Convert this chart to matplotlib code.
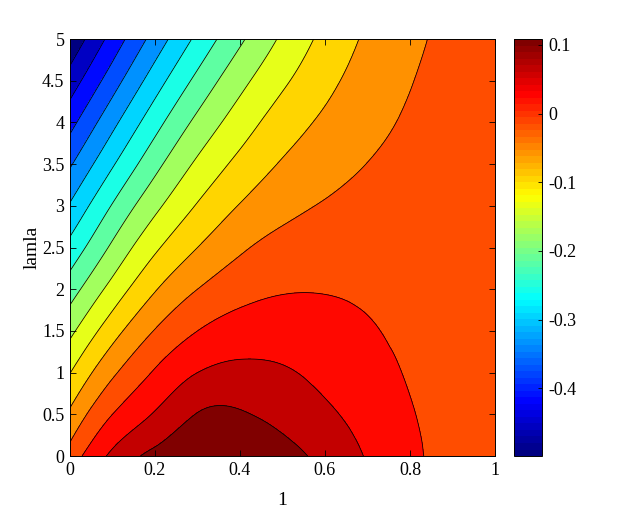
import numpy as np
import matplotlib
matplotlib.use("Agg")
import matplotlib.pyplot as plt
import matplotlib.tri as mtri
from matplotlib.colors import LinearSegmentedColormap, Normalize

plt.rcParams['font.family'] = ['Liberation Serif', 'DejaVu Serif']
plt.rcParams['axes.unicode_minus'] = False

# grid coordinates
x_vals = [0.0, 0.1, 0.2, 0.3, 0.4, 0.5, 0.6, 0.7, 0.8, 0.9, 1.0]
lam_vals = [0.0, 0.5, 1.0, 1.5, 2.0, 2.5, 3.0, 3.5, 4.0, 4.5, 5.0]

# values, one row per lamla value
z_lam_0_0 = [-0.0235, 0.0486, 0.0912, 0.1064, 0.1075, 0.0952, 0.0679, 0.037, 0.0079, -0.012, -0.021]
z_lam_0_5 = [-0.0723, 0.000, 0.0436, 0.0815, 0.0835, 0.068, 0.047, 0.0255, 0.0025, -0.011, -0.021]
z_lam_1_0 = [-0.121, -0.047, 0.004, 0.040, 0.0505, 0.0445, 0.030, 0.0145, -0.003, -0.0125, -0.021]
z_lam_1_5 = [-0.1698, -0.096, -0.038, 0.000, 0.018, 0.0205, 0.014, 0.004, -0.0085, -0.0145, -0.021]
z_lam_2_0 = [-0.2185, -0.1455, -0.083, -0.040, -0.0145, -0.003, -0.002, -0.0065, -0.014, -0.0175, -0.021]
z_lam_2_5 = [-0.2673, -0.1925, -0.127, -0.080, -0.046, -0.027, -0.019, -0.017, -0.0195, -0.0195, -0.021]
z_lam_3_0 = [-0.316, -0.2372, -0.170, -0.117, -0.078, -0.052, -0.037, -0.028, -0.025, -0.022, -0.021]
z_lam_3_5 = [-0.3648, -0.2844, -0.2122, -0.153, -0.109, -0.0765, -0.0555, -0.0395, -0.0305, -0.0245, -0.021]
z_lam_4_0 = [-0.4135, -0.3311, -0.255, -0.190, -0.140, -0.1005, -0.073, -0.051, -0.036, -0.027, -0.021]
z_lam_4_5 = [-0.4623, -0.3786, -0.2993, -0.2294, -0.172, -0.127, -0.091, -0.0625, -0.0415, -0.029, -0.021]
z_lam_5_0 = [-0.511, -0.425, -0.344, -0.2705, -0.207, -0.1535, -0.109, -0.0736, -0.048, -0.031, -0.021]

contour_levels = [-0.48, -0.44, -0.40, -0.36, -0.32, -0.28, -0.24, -0.20,
                  -0.16, -0.12, -0.08, -0.04, 0.0, 0.04, 0.08]
cbar_min = -0.4986
cbar_max = 0.1087
cbar_ticks = [-0.4, -0.3, -0.2, -0.1, 0.0, 0.1]
cbar_ticklabels = ['-0.4', '-0.3', '-0.2', '-0.1', '0', '0.1']
x_ticks = [0, 0.2, 0.4, 0.6, 0.8, 1]
x_ticklabels = ['0', '0.2', '0.4', '0.6', '0.8', '1']
y_ticks = [0, 0.5, 1, 1.5, 2, 2.5, 3, 3.5, 4, 4.5, 5]
y_ticklabels = ['0', '0.5', '1', '1.5', '2', '2.5', '3', '3.5', '4', '4.5', '5']

Z = np.array([z_lam_0_0, z_lam_0_5, z_lam_1_0, z_lam_1_5, z_lam_2_0, z_lam_2_5,
              z_lam_3_0, z_lam_3_5, z_lam_4_0, z_lam_4_5, z_lam_5_0])
X, Y = np.meshgrid(x_vals, lam_vals)

# MATLAB-style jet colormap
jet_anchor = [(0.0, (0, 0, 0.5)), (0.125, (0, 0, 1)), (0.375, (0, 1, 1)),
              (0.625, (1, 1, 0)), (0.875, (1, 0, 0)), (1.0, (0.5, 0, 0))]
mjet = LinearSegmentedColormap.from_list('mjet', jet_anchor, N=256)
mjet64 = LinearSegmentedColormap.from_list('mjet64', jet_anchor, N=64)

nb = len(contour_levels) + 1
band_colors = [mjet(k / (nb - 1)) for k in range(nb)]
fill_levels = [-10.0] + contour_levels + [10.0]

# regular triangulation of the grid (same diagonal in every cell)
ny, nx = Z.shape
tris = []
for j in range(ny - 1):
    for i in range(nx - 1):
        a = j * nx + i
        b = a + 1
        c = a + nx
        d = c + 1
        tris.append([a, b, d])
        tris.append([a, d, c])
ysc = lam_vals[-1]
tri_n = mtri.Triangulation(X.ravel(), Y.ravel() / ysc, np.array(tris))
refiner = mtri.UniformTriRefiner(tri_n)
tri_r, z_r = refiner.refine_field(Z.ravel(), subdiv=4)
tri_plot = mtri.Triangulation(tri_r.x, tri_r.y * ysc, tri_r.triangles)

fig = plt.figure(figsize=(6.22, 5.14), dpi=100)
ax = fig.add_axes([0.1125, 0.1128, 0.6833, 0.8113])
ax.tricontourf(tri_plot, z_r, levels=fill_levels, colors=band_colors)
ax.tricontour(tri_plot, z_r, levels=contour_levels, colors='k',
              linewidths=0.55, linestyles='solid')
ax.set_xlim(0, 1)
ax.set_ylim(0, 5)
ax.set_xticks(x_ticks)
ax.set_xticklabels(x_ticklabels)
ax.set_yticks(y_ticks)
ax.set_yticklabels(y_ticklabels)
ax.tick_params(direction='in', top=True, right=True, labelsize=13, length=4, width=0.6, pad=4)
for s in ax.spines.values():
    s.set_linewidth(0.7)
ax.set_xlabel('1', fontsize=14, labelpad=10)
ax.set_ylabel('lamla', fontsize=14, labelpad=1)

cax = fig.add_axes([0.8264, 0.1128, 0.0445, 0.8113])
sm = matplotlib.cm.ScalarMappable(norm=Normalize(cbar_min, cbar_max), cmap=mjet64)
cb = fig.colorbar(sm, cax=cax)
cb.set_ticks(cbar_ticks)
cb.set_ticklabels(cbar_ticklabels)
cb.outline.set_linewidth(0.7)
cax.tick_params(direction='in', labelsize=13, length=3, width=0.6, pad=5)

fig.savefig('out.png', dpi=100)
